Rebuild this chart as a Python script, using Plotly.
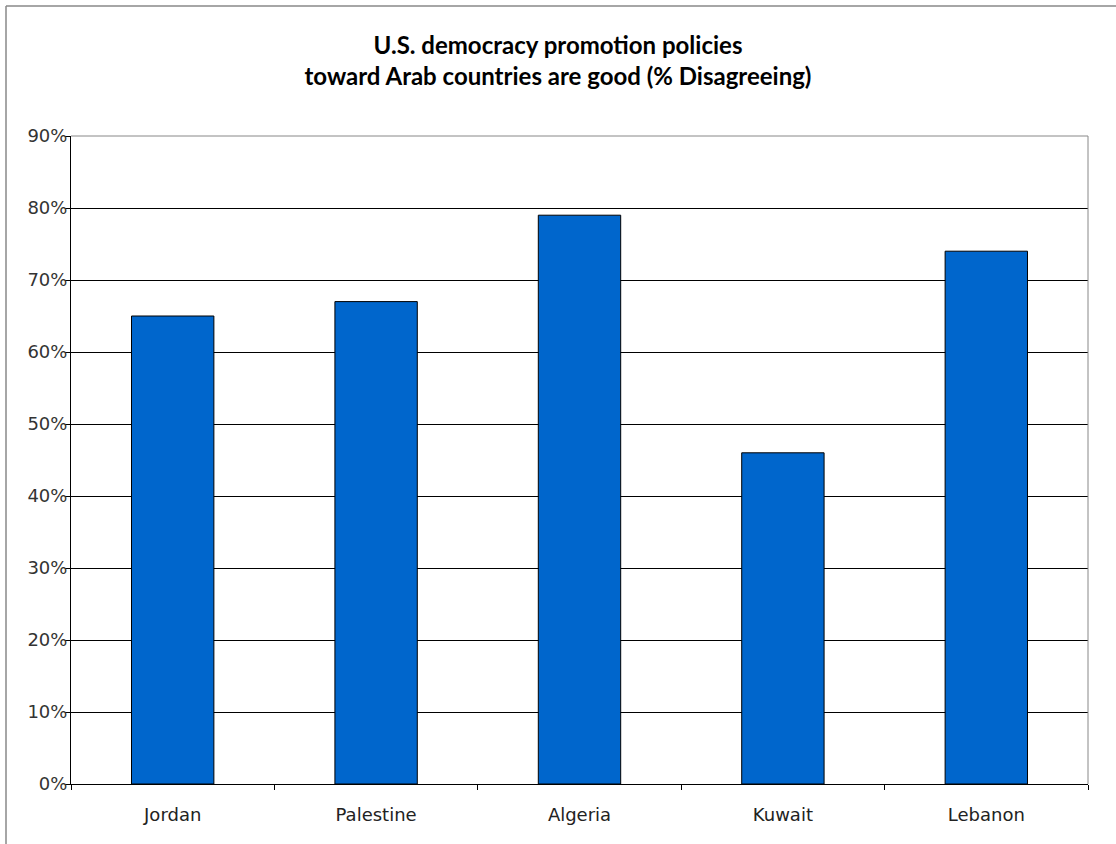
import plotly.graph_objects as go

countries = ["Jordan", "Palestine", "Algeria", "Kuwait", "Lebanon"]
disagree_pct = [65, 67, 79, 46, 74]
y_ticks = [0, 10, 20, 30, 40, 50, 60, 70, 80, 90]
y_labels = [f"{v}%" for v in y_ticks]
title_text = "U.S. democracy promotion policies<br>toward Arab countries are good (% Disagreeing)"

W, H = 1116, 844
L, R, T, B = 71, 28, 136, 60
pw, ph = W - L - R, H - T - B

fig = go.Figure(go.Bar(
    x=countries, y=disagree_pct,
    marker=dict(color="#0066CC", line=dict(color="#000000", width=1)),
    width=0.405,
))

fig.update_layout(
    width=W, height=H,
    margin=dict(l=L, r=R, t=T, b=B, pad=0),
    paper_bgcolor="white", plot_bgcolor="white",
    showlegend=False,
    title=dict(text=title_text, x=0.5, xanchor="center", xref="container",
               y=1 - 54 / H, yanchor="middle",
               font=dict(family="Lato, Open Sans, sans-serif", size=24, color="#000000",
                         weight="bold")),
    font=dict(family="DejaVu Sans, Verdana, sans-serif", size=18, color="#222222"),
)

fig.update_xaxes(
    type="category", tickson="boundaries", ticks="outside", ticklen=5,
    tickcolor="#000000", showline=True, linecolor="#000000", linewidth=1,
    showgrid=False, tickfont=dict(size=18, color="#222222"),
    ticklabelstandoff=14,
)
fig.update_yaxes(
    range=[0, 90], tickvals=y_ticks, ticktext=y_labels,
    ticks="outside", ticklen=5, tickcolor="#000000",
    showline=True, linecolor="#000000", linewidth=1,
    showgrid=True, gridcolor="#000000", gridwidth=1, zeroline=False,
    tickfont=dict(size=18, color="#333333"),
    ticklabelstandoff=-6,
)

# plot-area border (top & right) in gray
fig.add_shape(type="line", xref="paper", yref="paper", x0=0, x1=1, y0=1, y1=1,
              line=dict(color="#888888", width=1), layer="above")
fig.add_shape(type="line", xref="paper", yref="paper", x0=1, x1=1, y0=0, y1=1,
              line=dict(color="#888888", width=1), layer="above")
# chart outer border (left & top)
ox = (6 - L) / pw
oy = (H - B - 6) / ph
fig.add_shape(type="line", xref="paper", yref="paper", x0=ox, x1=ox, y0=oy, y1=(H - B - 900) / ph,
              line=dict(color="#888888", width=1.5), layer="above")
fig.add_shape(type="line", xref="paper", yref="paper", x0=ox, x1=(1200 - L) / pw, y0=oy, y1=oy,
              line=dict(color="#888888", width=1.5), layer="above")

fig.write_html("out.html")
